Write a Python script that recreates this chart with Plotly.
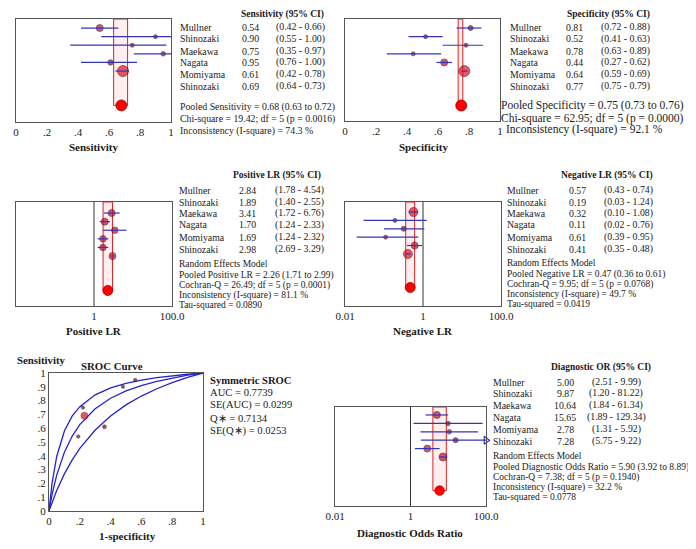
import plotly.graph_objects as go

W, H = 696, 549          # window size
OFF = 8                  # default page body margin
FW, FH = W - OFF, H - OFF
SERIF = "Liberation Serif"
TXT = "#1a1a1a"
BASE = 9.8
BLOCK = 9.5

# ---------------- data ----------------
studies = ["Mullner", "Shinozaki", "Maekawa", "Nagata", "Momiyama", "Shinozaki"]

sens = [0.54, 0.90, 0.75, 0.95, 0.61, 0.69]
sens_lo = [0.42, 0.55, 0.35, 0.76, 0.42, 0.64]
sens_hi = [0.66, 1.00, 0.97, 1.00, 0.78, 0.73]
sens_pooled = [0.68, 0.63, 0.72]

spec = [0.81, 0.52, 0.78, 0.44, 0.64, 0.77]
spec_lo = [0.72, 0.41, 0.63, 0.27, 0.59, 0.75]
spec_hi = [0.88, 0.63, 0.89, 0.62, 0.69, 0.79]
spec_pooled = [0.75, 0.73, 0.76]

plr = [2.84, 1.89, 3.41, 1.70, 1.69, 2.98]
plr_lo = [1.78, 1.40, 1.72, 1.24, 1.24, 2.69]
plr_hi = [4.54, 2.55, 6.76, 2.33, 2.32, 3.29]
plr_pooled = [2.26, 1.71, 2.99]

nlr = [0.57, 0.19, 0.32, 0.11, 0.61, 0.41]
nlr_lo = [0.43, 0.03, 0.10, 0.02, 0.39, 0.35]
nlr_hi = [0.74, 1.24, 1.08, 0.76, 0.95, 0.48]
nlr_pooled = [0.47, 0.36, 0.61]

dor = [5.00, 9.87, 10.64, 15.65, 2.78, 7.28]
dor_lo = [2.51, 1.20, 1.84, 1.89, 1.31, 5.75]
dor_hi = [9.99, 81.22, 61.34, 129.34, 5.92, 9.22]
dor_pooled = [5.90, 3.92, 8.89]

sens_stats = ["Chi-square = 19.42; df = 5 (p = 0.0016)", "Inconsistency (I-square) = 74.3 %"]
spec_stats = ["Chi-square = 62.95; df = 5 (p = 0.0000)", "Inconsistency (I-square) = 92.1 %"]
plr_stats = ["Cochran-Q = 26.49; df = 5 (p = 0.0001)", "Inconsistency (I-square) = 81.1 %", "Tau-squared = 0.0890"]
nlr_stats = ["Cochran-Q = 9.95; df = 5 (p = 0.0768)", "Inconsistency (I-square) = 49.7 %", "Tau-squared = 0.0419"]
dor_stats = ["Cochran-Q = 7.38; df = 5 (p = 0.1940)", "Inconsistency (I-square) = 32.2 %", "Tau-squared = 0.0778"]

# SROC curves (1-specificity, sensitivity)
sroc_fpr = [0, 0.01, 0.02, 0.05, 0.10, 0.15, 0.20, 0.30, 0.40, 0.50, 0.60, 0.70, 0.80, 0.90, 1.0]
sroc_upper = [0, 0.111, 0.202, 0.395, 0.580, 0.687, 0.756, 0.842, 0.892, 0.925, 0.949, 0.967, 0.980, 0.991, 1]
sroc_mid = [0, 0.063, 0.120, 0.260, 0.426, 0.541, 0.626, 0.741, 0.817, 0.870, 0.909, 0.940, 0.964, 0.984, 1]
sroc_lower = [0, 0.032, 0.064, 0.149, 0.269, 0.369, 0.454, 0.587, 0.689, 0.769, 0.833, 0.886, 0.930, 0.968, 1]
sroc_stats = ["AUC = 0.7739", "SE(AUC) = 0.0299", "Q\u2217 = 0.7134", "SE(Q\u2217) = 0.0253"]

rows = [1, 2, 3, 4, 5, 6]
pooled_row = 10

# ---------------- styling ----------------
CI_COL = "#3535b8"
sizes = {
    "sens": ([7, 4, 4, 4.5, 5.5, 11], 11),
    "spec": ([5, 4, 4, 4, 7, 11], 11),
    "plr": ([7, 7, 6.5, 6.5, 6.5, 7], 10),
    "nlr": ([9, 4, 5, 4, 7, 9], 10),
    "dor": ([7, 4.5, 4.5, 5, 7, 8], 9.5),
}


def mcol(s):
    if s >= 9:
        return "#e5101e"
    if s >= 6:
        return "#c2102e"
    return "#6b1550"


def px_dom_x(a, b):
    return [(a - OFF) / FW, (b - OFF) / FW]


def px_dom_y(top, bottom):
    return [1 - (bottom - OFF) / FH, 1 - (top - OFF) / FH]


fig = go.Figure()
ann = []


def txt(x, y, s, size=BASE, anchor="left", bold=False):
    ann.append(dict(x=(x - OFF) / FW, y=1 - (y - OFF) / FH, xref="paper", yref="paper",
                    text=("<b>%s</b>" % s) if bold else s, showarrow=False,
                    xanchor=anchor, yanchor="middle", borderpad=0,
                    font=dict(family=SERIF, size=size, color=TXT)))


def forest(ax, vals, lo, hi, pooled, key, xr, yr, log=False, refline=False):
    xa = "x" + ax
    ya = "y" + ax
    szs, psz = sizes[key]
    top = yr[1]
    xmax = 10 ** xr[1] if log else xr[1]
    fig.add_trace(go.Scatter(x=[pooled[1], pooled[1], pooled[2], pooled[2], pooled[1]],
                             y=[top, pooled_row, pooled_row, top, top], xaxis=xa, yaxis=ya,
                             mode="lines", fill="toself", fillcolor="rgba(255,90,90,0.10)",
                             line=dict(color="#e02020", width=1), hoverinfo="skip"))
    if refline:
        fig.add_trace(go.Scatter(x=[1, 1], y=[yr[0], yr[1]], xaxis=xa, yaxis=ya, mode="lines",
                                 line=dict(color="#333333", width=1), hoverinfo="skip"))
    fig.add_trace(go.Scatter(x=vals, y=rows, xaxis=xa, yaxis=ya, mode="markers",
                             marker=dict(size=szs, color=[mcol(s) for s in szs],
                                         line=dict(color="#3a0818", width=0.8)),
                             hoverinfo="skip"))
    for i in range(len(vals)):
        h = min(hi[i], xmax)
        fig.add_trace(go.Scatter(x=[lo[i], h], y=[rows[i], rows[i]], xaxis=xa, yaxis=ya,
                                 mode="lines", line=dict(color=CI_COL, width=1.2),
                                 hoverinfo="skip"))
        if hi[i] > xmax:
            fig.add_trace(go.Scatter(x=[xmax], y=[rows[i]], xaxis=xa, yaxis=ya, mode="markers",
                                     marker=dict(symbol="triangle-right-open", size=7,
                                                 color=CI_COL, line=dict(width=1.2)),
                                     cliponaxis=False, hoverinfo="skip"))
    fig.add_trace(go.Scatter(x=[pooled[0]], y=[pooled_row], xaxis=xa, yaxis=ya, mode="markers",
                             marker=dict(size=psz, color="#ff0000",
                                         line=dict(color="#a00000", width=0.8)),
                             hoverinfo="skip"))


def axis_pair(ax, xd, yd, xr, yr, tickvals, ticktext, log=False, ylabels=None):
    k = "" if ax == "1" else ax
    xaxis = dict(domain=xd, range=xr, type="log" if log else "linear",
                 anchor="y" + ax if ax != "1" else "y", automargin=False,
                 showgrid=False, zeroline=False, showline=True, mirror=True,
                 linecolor="#555555", linewidth=1, ticks="",
                 tickvals=tickvals, ticktext=ticktext,
                 tickfont=dict(family=SERIF, size=11, color=TXT), fixedrange=True)
    yaxis = dict(domain=yd, range=yr, anchor="x" + ax if ax != "1" else "x", automargin=False,
                 showgrid=False, zeroline=False, showline=True, mirror=True,
                 linecolor="#555555", linewidth=1, ticks="", fixedrange=True)
    if ylabels:
        yaxis.update(tickvals=ylabels[0], ticktext=ylabels[1],
                     tickfont=dict(family=SERIF, size=11, color=TXT))
    else:
        yaxis.update(showticklabels=False)
    fig.layout["xaxis" + k] = xaxis
    fig.layout["yaxis" + k] = yaxis


lin_ticks = [0, 0.2, 0.4, 0.6, 0.8, 1]
lin_text = ["0", ".2", ".4", ".6", ".8", "1"]
log_ticks = [0.01, 1, 100]
log_text = ["0.01", "1", "100.0"]

yr = [11.93, -0.05]
axis_pair("1", px_dom_x(16, 171), px_dom_y(19, 122), [0, 1], yr, lin_ticks, lin_text)
forest("", sens, sens_lo, sens_hi, sens_pooled, "sens", [0, 1], yr)

yr = [11.8, -0.05]
axis_pair("2", px_dom_x(345, 500), px_dom_y(19, 121), [0, 1], yr, lin_ticks, lin_text)
forest("2", spec, spec_lo, spec_hi, spec_pooled, "spec", [0, 1], yr)

yr = [11.8, -0.28]
axis_pair("3", px_dom_x(16, 172), px_dom_y(202, 306), [-2, 2], yr, log_ticks, log_text, log=True)
forest("3", plr, plr_lo, plr_hi, plr_pooled, "plr", [-2, 2], yr, log=True, refline=True)

yr = [12.2, -0.19]
axis_pair("4", px_dom_x(345, 501), px_dom_y(202, 306), [-2, 2], yr, log_ticks, log_text, log=True)
forest("4", nlr, nlr_lo, nlr_hi, nlr_pooled, "nlr", [-2, 2], yr, log=True, refline=True)

yr = [11.83, 0.05]
axis_pair("6", px_dom_x(335, 486), px_dom_y(407, 506), [-2, 2], yr, log_ticks, log_text, log=True)
forest("6", dor, dor_lo, dor_hi, dor_pooled, "dor", [-2, 2], yr, log=True, refline=True)

# SROC
axis_pair("5", px_dom_x(49, 203), px_dom_y(373, 511), [0, 1], [0, 1], lin_ticks, lin_text,
          ylabels=([i / 10 for i in range(11)],
                   ["0", ".1", ".2", ".3", ".4", ".5", ".6", ".7", ".8", ".9", "1"]))
for curve in (sroc_upper, sroc_mid, sroc_lower):
    fig.add_trace(go.Scatter(x=sroc_fpr, y=curve, xaxis="x5", yaxis="y5", mode="lines",
                             line=dict(color="#2424cc", width=1.3), hoverinfo="skip"))
fpr_pts = [1 - s for s in spec]
sroc_sz = [3.5, 3.5, 3.5, 3.5, 4, 7]
fig.add_trace(go.Scatter(x=fpr_pts, y=sens, xaxis="x5", yaxis="y5", mode="markers",
                         marker=dict(size=sroc_sz,
                                     color=["#5a1030"] * 5 + ["#e01020"],
                                     line=dict(color="#3a0818", width=0.6)),
                         hoverinfo="skip"))


# ---------------- text ----------------
def table(header, hx, hy, nx, vx, cx, ys, vals, lo, hi):
    txt(hx, hy, header, bold=True, anchor="center", size=9.5)
    for i, y in enumerate(ys):
        txt(nx, y, studies[i])
        txt(vx, y, "%.2f" % vals[i], anchor="center")
        txt(cx, y, "(%.2f - %.2f)" % (lo[i], hi[i]), anchor="center")


top_rows = [27, 39, 51, 62, 74, 86]
table("Sensitivity (95% CI)", 282, 14, 179, 250, 300, top_rows, sens, sens_lo, sens_hi)
txt(179, 107, "Pooled Sensitivity = %.2f (%.2f to %.2f)" % tuple(sens_pooled))
txt(179, 119, sens_stats[0])
txt(179, 131, sens_stats[1])

table("Specificity (95% CI)", 608, 14, 509, 574, 625, top_rows, spec, spec_lo, spec_hi)
txt(500, 106, "Pooled Specificity = %.2f (%.2f to %.2f)" % tuple(spec_pooled), size=11.5)
txt(500, 118, spec_stats[0], size=11.5)
txt(505, 130, spec_stats[1], size=11.5)

mid_rows = [190, 202, 213, 225, 237, 249]
table("Positive LR (95% CI)", 277, 175, 178, 247, 299, mid_rows, plr, plr_lo, plr_hi)
txt(178, 264, "Random Effects Model", size=BLOCK)
txt(178, 275, "Pooled Positive LR = %.2f (%.2f to %.2f)" % tuple(plr_pooled), size=BLOCK)
for j, s in enumerate(plr_stats):
    txt(178, 285 + 10 * j, s, size=BLOCK)

table("Negative LR (95% CI)", 607, 175, 506, 577, 628, mid_rows, nlr, nlr_lo, nlr_hi)
txt(506, 263, "Random Effects Model", size=BLOCK)
txt(506, 274, "Pooled Negative LR = %.2f (%.2f to %.2f)" % tuple(nlr_pooled), size=BLOCK)
for j, s in enumerate(nlr_stats):
    txt(506, 284 + 10 * j, s, size=BLOCK)

dor_rows = [382, 393, 405, 417, 429, 441]
table("Diagnostic OR (95% CI)", 601, 367, 492, 565, 616, dor_rows, dor, dor_lo, dor_hi)
txt(492, 456, "Random Effects Model", size=BLOCK)
txt(492, 467, "Pooled Diagnostic Odds Ratio = %.2f (%.2f to %.2f)" % tuple(dor_pooled), size=BLOCK)
for j, s in enumerate(dor_stats):
    txt(492, 477 + 10 * j, s, size=BLOCK)

txt(93, 147, "Sensitivity", size=11, bold=True, anchor="center")
txt(423, 147, "Specificity", size=11, bold=True, anchor="center")
txt(94, 331, "Positive LR", size=11, bold=True, anchor="center")
txt(423, 331, "Negative LR", size=11, bold=True, anchor="center")
txt(410, 533, "Diagnostic Odds Ratio", size=11, bold=True, anchor="center")

txt(41, 360, "Sensitivity", size=10.8, bold=True, anchor="center")
txt(112, 366, "SROC Curve", size=10.8, bold=True, anchor="center")
txt(127, 536, "1-specificity", size=11, bold=True, anchor="center")
txt(209, 380, "Symmetric SROC", size=10.6, bold=True)
for j, s in enumerate(sroc_stats):
    txt(209, 392 + 13 * j, s, size=10.6)

fig.update_layout(template="none", width=FW, height=FH,
                  margin=dict(l=0, r=0, t=0, b=0, pad=0, autoexpand=False),
                  paper_bgcolor="white", plot_bgcolor="white", showlegend=False,
                  annotations=ann, font=dict(family=SERIF, color=TXT))

fig.write_html("out.html")
